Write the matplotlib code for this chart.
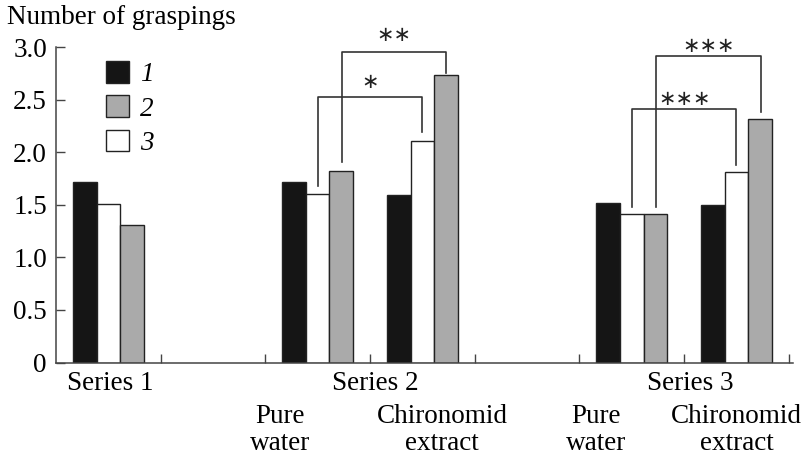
import matplotlib
matplotlib.use('agg')
import numpy as np
import matplotlib.pyplot as plt
from matplotlib.patches import Patch

plt.rcParams['font.family'] = ['Liberation Serif', 'DejaVu Serif']

# group centres on the x axis and bar values (order: 1 black, 3 white, 2 gray)
centres = [0.5, 2.5, 3.5, 5.5, 6.5]
vals_1 = [1.72, 1.72, 1.59, 1.52, 1.50]
vals_3 = [1.51, 1.60, 2.11, 1.41, 1.81]
vals_2 = [1.31, 1.82, 2.73, 1.41, 2.32]

yticks = [0, 0.5, 1.0, 1.5, 2.0, 2.5, 3.0]
ytick_labels = ['0', '0.5', '1.0', '1.5', '2.0', '2.5', '3.0']

series_labels = ['Series 1', 'Series 2', 'Series 3']
series_x = [0.52, 3.05, 6.06]
cond_labels = ['Pure\nwater', 'Chironomid\nextract', 'Pure\nwater', 'Chironomid\nextract']
cond_x = [2.14, 3.69, 5.16, 6.5]

# significance brackets: left x, right x, left foot, right foot, top, mark
br_x1 = [2.5, 2.73, 5.5, 5.73]
br_x2 = [3.5, 3.73, 6.5, 6.73]
br_y1 = [1.68, 1.905, 1.48, 1.48]
br_y2 = [2.19, 2.75, 1.88, 2.38]
br_top = [2.52, 2.95, 2.41, 2.91]
br_txt_y = [2.67, 3.11, 2.51, 3.01]
br_mark = ['\u2217', '\u2217\u2217', '\u2217\u2217\u2217', '\u2217\u2217\u2217']

fs = 19.5
edge = '#222222'
fig = plt.figure(figsize=(8.07, 4.55), dpi=100)
ax = fig.add_axes([56/807, 92.5/455, 737/807, 315.5/455])

w = 0.225
c = np.array(centres)
ax.bar(c - w, vals_1, w, color='#151515', edgecolor=edge, linewidth=1)
ax.bar(c, vals_3, w, color='white', edgecolor=edge, linewidth=1)
ax.bar(c + w, vals_2, w, color='#aaaaaa', edgecolor=edge, linewidth=1)

for x1, x2, y1, y2, top, ty, m in zip(br_x1, br_x2, br_y1, br_y2, br_top, br_txt_y, br_mark):
    ax.plot([x1, x1, x2, x2], [y1, top, top, y2], color='#333333', lw=1.2, clip_on=False)
    ax.text((x1 + x2) / 2, ty, m, ha='center', va='center', fontsize=15,
            family='DejaVu Sans', color='#222222', clip_on=False)

ax.set_xlim(0, 7.04)
ax.set_ylim(0, 3)
ax.set_xticks(range(1, 8))
ax.set_xticklabels([])
ax.set_yticks(yticks)
ax.set_yticklabels(ytick_labels, fontsize=fs)
ax.tick_params(direction='in', length=6.5, width=1, color='#444444', pad=6.5)
for s in ['top', 'right']:
    ax.spines[s].set_visible(False)
for s in ['left', 'bottom']:
    ax.spines[s].set_color('#444444')
    ax.spines[s].set_linewidth(1.1)

for x, t in zip(series_x, series_labels):
    ax.text(x, -0.195, t, ha='center', va='center', fontsize=fs)
for x, t in zip(cond_x, cond_labels):
    ax.text(x, -0.64, t, ha='center', va='center', fontsize=fs, linespacing=1.08)

fig.text(7/807, 1 - 17/455, 'Number of graspings', ha='left', va='center', fontsize=fs)

handles = [Patch(facecolor='#151515', edgecolor=edge),
           Patch(facecolor='#aaaaaa', edgecolor=edge),
           Patch(facecolor='white', edgecolor=edge)]
ax.legend(handles, ['1', '2', '3'], loc='upper left', bbox_to_anchor=(0.068, 0.955),
          frameon=False, borderpad=0, borderaxespad=0, handlelength=0.85, handleheight=0.85,
          handletextpad=0.4, labelspacing=0.3,
          prop={'family': 'Liberation Serif', 'style': 'italic', 'size': fs})

fig.savefig('out.png', dpi=100)
